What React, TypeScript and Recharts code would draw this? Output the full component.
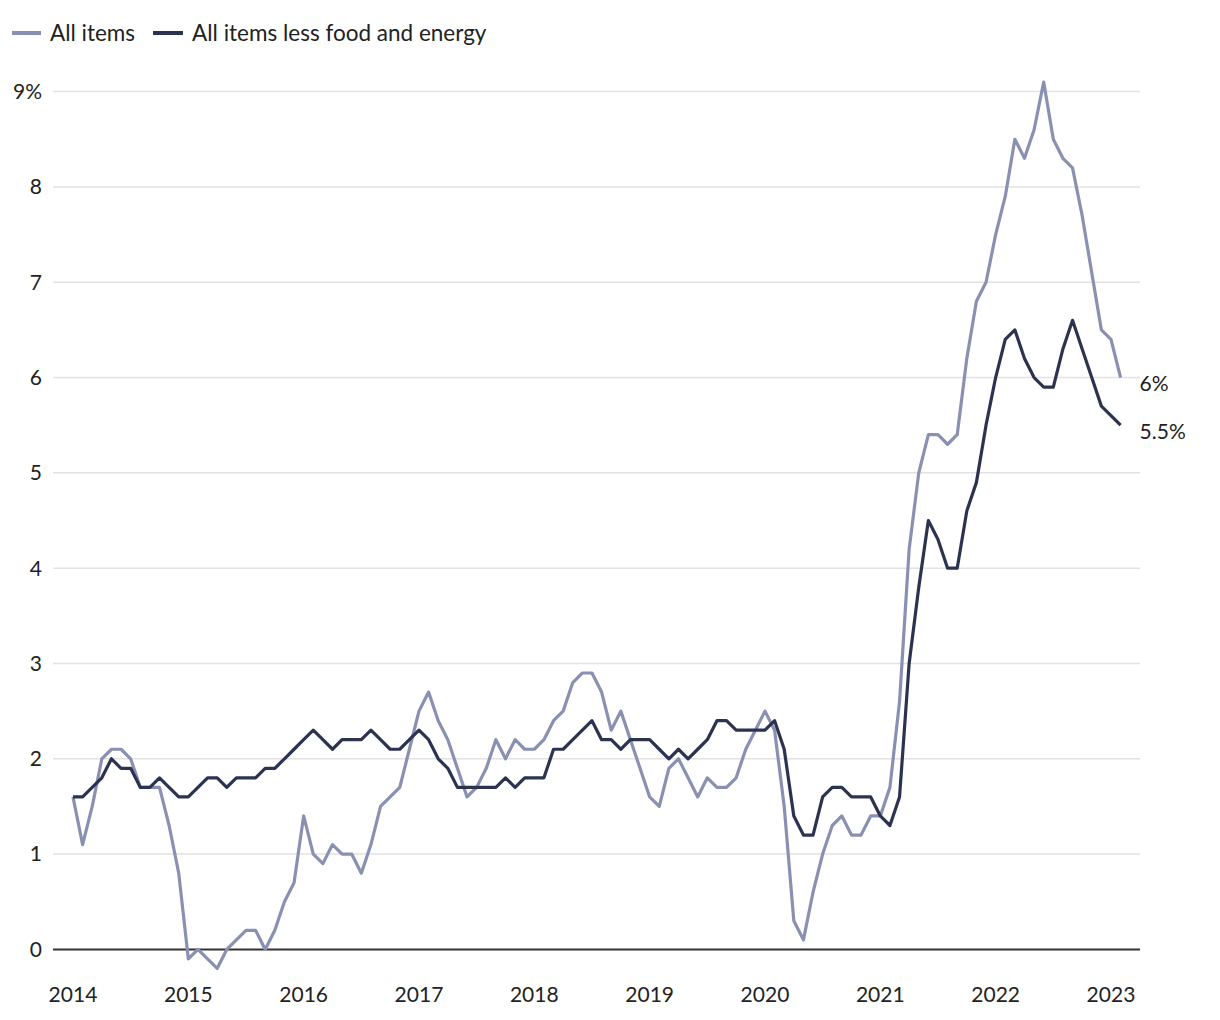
import React from 'react';
import { LineChart, Line, XAxis, YAxis, ReferenceLine } from 'recharts';

// Monthly 12-month % change, Jan 2014 – Feb 2023
const allItems = [
  1.6, 1.1, 1.5, 2.0, 2.1, 2.1, 2.0, 1.7, 1.7, 1.7, 1.3, 0.8,
  -0.1, 0.0, -0.1, -0.2, 0.0, 0.1, 0.2, 0.2, 0.0, 0.2, 0.5, 0.7,
  1.4, 1.0, 0.9, 1.1, 1.0, 1.0, 0.8, 1.1, 1.5, 1.6, 1.7, 2.1,
  2.5, 2.7, 2.4, 2.2, 1.9, 1.6, 1.7, 1.9, 2.2, 2.0, 2.2, 2.1,
  2.1, 2.2, 2.4, 2.5, 2.8, 2.9, 2.9, 2.7, 2.3, 2.5, 2.2, 1.9,
  1.6, 1.5, 1.9, 2.0, 1.8, 1.6, 1.8, 1.7, 1.7, 1.8, 2.1, 2.3,
  2.5, 2.3, 1.5, 0.3, 0.1, 0.6, 1.0, 1.3, 1.4, 1.2, 1.2, 1.4,
  1.4, 1.7, 2.6, 4.2, 5.0, 5.4, 5.4, 5.3, 5.4, 6.2, 6.8, 7.0,
  7.5, 7.9, 8.5, 8.3, 8.6, 9.1, 8.5, 8.3, 8.2, 7.7, 7.1, 6.5,
  6.4, 6.0,
];

const coreItems = [
  1.6, 1.6, 1.7, 1.8, 2.0, 1.9, 1.9, 1.7, 1.7, 1.8, 1.7, 1.6,
  1.6, 1.7, 1.8, 1.8, 1.7, 1.8, 1.8, 1.8, 1.9, 1.9, 2.0, 2.1,
  2.2, 2.3, 2.2, 2.1, 2.2, 2.2, 2.2, 2.3, 2.2, 2.1, 2.1, 2.2,
  2.3, 2.2, 2.0, 1.9, 1.7, 1.7, 1.7, 1.7, 1.7, 1.8, 1.7, 1.8,
  1.8, 1.8, 2.1, 2.1, 2.2, 2.3, 2.4, 2.2, 2.2, 2.1, 2.2, 2.2,
  2.2, 2.1, 2.0, 2.1, 2.0, 2.1, 2.2, 2.4, 2.4, 2.3, 2.3, 2.3,
  2.3, 2.4, 2.1, 1.4, 1.2, 1.2, 1.6, 1.7, 1.7, 1.6, 1.6, 1.6,
  1.4, 1.3, 1.6, 3.0, 3.8, 4.5, 4.3, 4.0, 4.0, 4.6, 4.9, 5.5,
  6.0, 6.4, 6.5, 6.2, 6.0, 5.9, 5.9, 6.3, 6.6, 6.3, 6.0, 5.7,
  5.6, 5.5,
];

const yearTicks = [0, 12, 24, 36, 48, 60, 72, 84, 96, 108];
const yearLabels = ['2014', '2015', '2016', '2017', '2018', '2019', '2020', '2021', '2022', '2023'];
const yTicks = [0, 1, 2, 3, 4, 5, 6, 7, 8, 9];

const seriesNames = ['All items', 'All items less food and energy'];
const colors = ['#8a90b2', '#2c3350'];

const data = allItems.map((v, i) => ({ i, all: v, core: coreItems[i] }));
const lastIndex = data.length - 1;

const FONT = 'Lato, "Noto Sans", sans-serif';
const TEXT = '#222';

const XTick = (props: any) => {
  const idx = yearTicks.indexOf(props.payload.value);
  return (
    <text x={props.x} y={987} dy="0.35em" textAnchor="middle" fontSize={21} fontFamily={FONT} fill={TEXT}>
      {yearLabels[idx]}
    </text>
  );
};

const YTick = (props: any) => {
  const v = props.payload.value;
  return (
    <text x={34} y={props.y} dy="0.35em" textAnchor="end" fontSize={21} fontFamily={FONT} fill={TEXT}>
      {v === 9 ? '9%' : String(v)}
    </text>
  );
};

const endLabel = (props: any) => {
  if (props.index !== lastIndex) return <g />;
  return (
    <text x={props.x + 19} y={props.y + 6} dy="0.35em" textAnchor="start" fontSize={21} fontFamily={FONT} fill={TEXT}>
      {`${props.value}%`}
    </text>
  );
};

export default function App() {
  return (
    <div style={{ position: 'relative', width: 1204, height: 1004, fontFamily: FONT }}>
      <div style={{ position: 'absolute', left: 0, top: 12, display: 'flex', alignItems: 'center', fontSize: 22.5, color: TEXT, lineHeight: '26px', whiteSpace: 'nowrap' }}>
        <span style={{ display: 'inline-block', width: 29, height: 3.4, background: colors[0], marginLeft: 4, marginRight: 9 }} />
        <span>{seriesNames[0]}</span>
        <span style={{ display: 'inline-block', width: 30, height: 3.4, background: colors[1], marginLeft: 18, marginRight: 9 }} />
        <span>{seriesNames[1]}</span>
      </div>
      <LineChart
        width={1204}
        height={1004}
        data={data}
        margin={{ top: 55, right: 72, bottom: 4, left: 0 }}
        style={{ position: 'absolute', left: 0, top: 0 }}
      >
        <XAxis
          dataKey="i"
          type="number"
          domain={[-2.08, 111.02]}
          ticks={yearTicks}
          tick={<XTick />}
          axisLine={false}
          tickLine={false}
          height={30}
          allowDataOverflow
        />
        <YAxis
          type="number"
          domain={[-0.3, 9.3]}
          ticks={yTicks}
          tick={<YTick />}
          axisLine={false}
          tickLine={false}
          width={45}
          allowDataOverflow
        />
        {yTicks.filter((t) => t !== 0).map((t) => (
          <ReferenceLine key={t} y={t} stroke="#e2e2e2" strokeWidth={1.5} />
        ))}
        <ReferenceLine y={0} stroke="#333" strokeWidth={2} />
        <Line
          dataKey="all"
          stroke={colors[0]}
          strokeWidth={3.2}
          dot={false}
          isAnimationActive={false}
          strokeLinejoin="round"
          label={endLabel}
        />
        <Line
          dataKey="core"
          stroke={colors[1]}
          strokeWidth={3.2}
          dot={false}
          isAnimationActive={false}
          strokeLinejoin="round"
          label={endLabel}
        />
      </LineChart>
    </div>
  );
}
